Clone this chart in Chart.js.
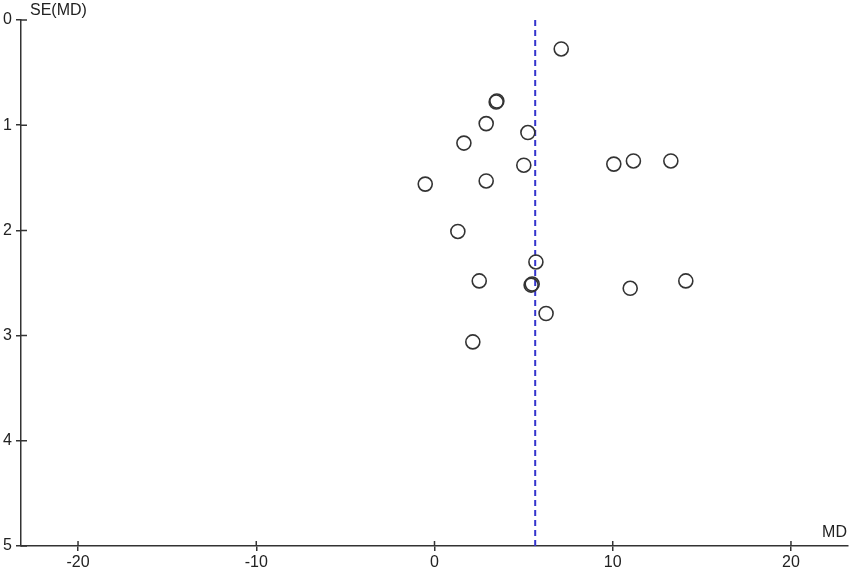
<!DOCTYPE html>
<html>
<head>
<meta charset="utf-8">
<script src="https://cdn.jsdelivr.net/npm/chart.js@4/dist/chart.umd.min.js"></script>
<style>
  html, body { margin: 0; padding: 0; background: #fff; }
</style>
</head>
<body>
<canvas id="myChart" width="851" height="572"></canvas>
<script>
// study effects (MD) and their standard errors
const md = [7.11, 3.50, 3.46, 2.90, 5.24, 1.65, 10.06, 11.16, 13.26, 5.01, 2.90,
            -0.52, 1.31, 5.69, 2.51, 5.42, 5.48, 14.10, 10.98, 6.26, 2.15];
const se = [0.275, 0.77, 0.78, 0.985, 1.07, 1.17, 1.37, 1.34, 1.34, 1.38, 1.53,
            1.56, 2.01, 2.30, 2.48, 2.52, 2.51, 2.48, 2.55, 2.79, 3.06];
const pooledMD = 5.65;
const xTicks = [-20, -10, 0, 10, 20];
const yTicks = [0, 1, 2, 3, 4, 5];

const axisColor = '#333333';
const fontFam = '"Liberation Sans", Arial, sans-serif';

const points = md.map((v, i) => ({x: v, y: se[i]}));

// inner half of the tick marks and the two axis titles
const extras = {
    id: 'extras',
    afterDraw(chart) {
        const c = chart.ctx;
        const xs = chart.scales.x, ys = chart.scales.y;
        const area = chart.chartArea;
        c.save();
        c.strokeStyle = axisColor;
        c.lineWidth = 1.5;
        c.beginPath();
        xTicks.forEach(t => {
            const px = xs.getPixelForValue(t);
            c.moveTo(px, area.bottom);
            c.lineTo(px, area.bottom - 5);
        });
        yTicks.forEach(t => {
            const py = ys.getPixelForValue(t);
            c.moveTo(area.left, py);
            c.lineTo(area.left + 6, py);
        });
        c.stroke();
        c.fillStyle = '#222';
        c.font = '16px ' + fontFam;
        c.textBaseline = 'middle';
        c.textAlign = 'left';
        c.fillText('SE(MD)', area.left + 9, 11);
        c.textAlign = 'right';
        c.fillText('MD', area.right - 1, area.bottom - 13);
        c.restore();
    }
};

var ctx = document.getElementById('myChart').getContext('2d');

var myChart = new Chart(ctx, {
    type: 'scatter',
    data: {
        datasets: [{
            data: points,
            pointRadius: 7,
            borderWidth: 1.6,
            borderColor: '#333333',
            backgroundColor: 'rgba(0,0,0,0)'
        }, {
            type: 'line',
            data: [{x: pooledMD, y: 0}, {x: pooledMD, y: 5}],
            borderColor: '#3535cc',
            borderWidth: 2,
            borderDash: [6, 4],
            pointRadius: 0,
            fill: false
        }]
    },
    plugins: [extras],
    options: {
        responsive: false,
        animation: false,
        devicePixelRatio: 1,
        events: [],
        layout: { autoPadding: false, padding: { top: 20, right: 3, left: 0, bottom: 0 } },
        plugins: { legend: { display: false }, tooltip: { enabled: false } },
        scales: {
            x: {
                type: 'linear',
                position: 'bottom',
                min: -23.2,
                max: 23.2,
                afterBuildTicks: (s) => { s.ticks = xTicks.map(v => ({value: v})); },
                afterFit: (s) => { s.height = 26; },
                border: { color: axisColor, width: 1.5 },
                grid: { drawOnChartArea: false, drawTicks: true, tickLength: 5, color: axisColor, lineWidth: 1.5 },
                ticks: { color: '#222', padding: 2, maxRotation: 0, font: { family: fontFam, size: 16 } }
            },
            y: {
                type: 'linear',
                reverse: true,
                min: 0,
                max: 5,
                afterBuildTicks: (s) => { s.ticks = yTicks.map(v => ({value: v})); },
                afterFit: (s) => { s.width = 21; },
                border: { color: axisColor, width: 1.5 },
                grid: { drawOnChartArea: false, drawTicks: true, tickLength: 5, color: axisColor, lineWidth: 1.5 },
                ticks: { color: '#222', padding: 4, font: { family: fontFam, size: 16 } }
            }
        }
    }
});
</script>
</body>
</html>
